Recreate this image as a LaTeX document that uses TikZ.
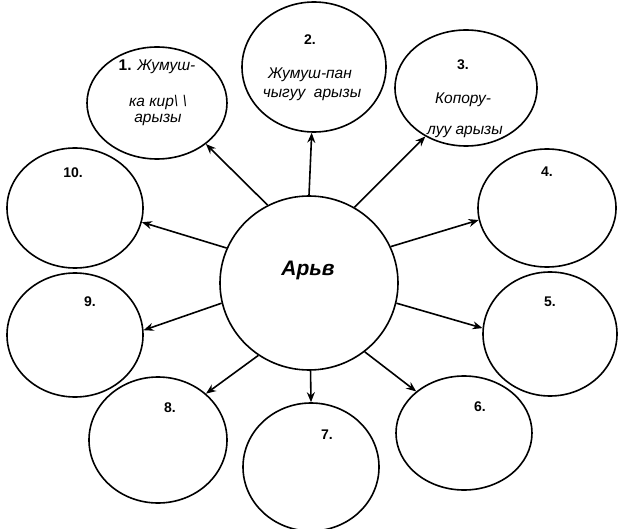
\documentclass[tikz,border=0pt]{standalone}
\usepackage{fontspec}
\setmainfont{Liberation Sans}
\usetikzlibrary{shapes.geometric,arrows.meta}
\begin{document}
\begin{tikzpicture}[x=1pt,y=-1pt,
  circ/.style={ellipse,draw,line width=1.6pt,inner sep=0pt},
  arr/.style={line width=1.6pt,-{Stealth[length=10pt,width=8pt]}},
  num/.style={inner sep=0pt,font=\fontsize{14}{16}\selectfont\bfseries},
  lbl/.style={inner sep=0pt,font=\fontsize{15.5}{18}\selectfont\itshape}]
\useasboundingbox (0,0) rectangle (618,529);
% circles
\node[circ,minimum width=178pt,minimum height=174pt] (C) at (309,283) {};
\node[circ,minimum width=140pt,minimum height=112pt] (n1) at (157,103) {};
\node[circ,minimum width=144pt,minimum height=130pt] (n2) at (314,67) {};
\node[circ,minimum width=142pt,minimum height=116pt] (n3) at (466,88) {};
\node[circ,minimum width=138pt,minimum height=118pt] (n4) at (547,208) {};
\node[circ,minimum width=134pt,minimum height=124pt] (n5) at (550,334) {};
\node[circ,minimum width=136pt,minimum height=114pt] (n6) at (464,433) {};
\node[circ,minimum width=136pt,minimum height=128pt] (n7) at (311,467) {};
\node[circ,minimum width=138pt,minimum height=126pt] (n8) at (158,440) {};
\node[circ,minimum width=136pt,minimum height=124pt] (n9) at (75,335) {};
\node[circ,minimum width=136pt,minimum height=120pt] (n10) at (75,208) {};
% texts
\node[inner sep=0pt,font=\fontsize{21}{24}\selectfont\bfseries\itshape] (tC) at (308,270) {Арьв};
\node[lbl] (t1a) at (157,67) {{\bfseries\upshape 1.} Жумуш-};
\node[lbl] (t1b) at (158,102) {ка кир\textbackslash\ \textbackslash};
\node[lbl] (t1c) at (158,120) {арызы};
\node[num] (t2a) at (310,40) {2.};
\node[lbl] (t2b) at (310,75) {Жумуш-пан};
\node[lbl] (t2c) at (312,95) {чыгуу\ \ арызы};
\node[num] (t3a) at (463,65) {3.};
\node[lbl] (t3b) at (463,100) {Копору-};
\node[lbl] (t3c) at (465,132) {луу арызы};
\node[num] (t4) at (547,172) {4.};
\node[num] (t5) at (550,302) {5.};
\node[num] (t6) at (480,407) {6.};
\node[num] (t7) at (327,435) {7.};
\node[num] (t8) at (170,408) {8.};
\node[num] (t9) at (90,302) {9.};
\node[num] (t10) at (73,173) {10.};
% arrows
\draw[arr] (C.118) -- (n1.-40);
\draw[arr] (C.90) -- (n2.-92);
\draw[arr] (C.59) -- (n3.-130);
\draw[arr] (C.24) -- (n4.190);
\draw[arr] (C.-13) -- (n5.175);
\draw[arr] (C.-51) -- (n6.139);
\draw[arr] (C.-89) -- (n7.90);
\draw[arr] (C.235) -- (n8.44);
\draw[arr] (C.193) -- (n9.4);
\draw[arr] (C.157) -- (n10.-12);
\end{tikzpicture}
\end{document}
